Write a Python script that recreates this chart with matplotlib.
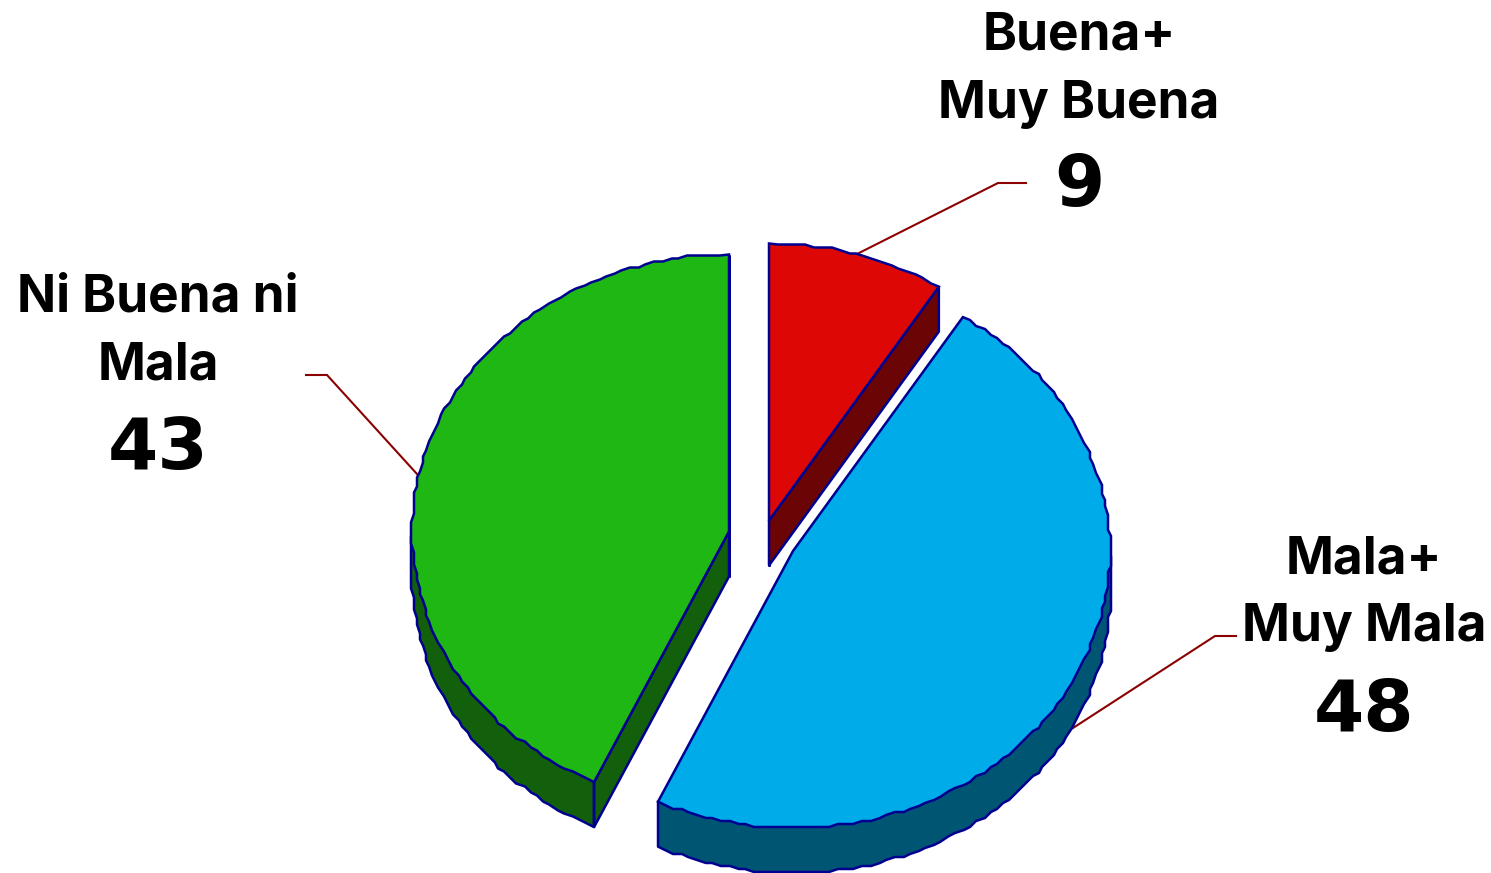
import numpy as np
import matplotlib
matplotlib.use("Agg")
import matplotlib.pyplot as plt
from matplotlib.patches import Polygon
from matplotlib.path import Path

labels = ["Buena+\nMuy Buena", "Mala+\nMuy Mala", "Ni Buena ni\nMala"]
values = [9, 48, 43]
top_colors = ["#DD0806", "#00ABEA", "#1FB714"]
side_colors = ["#6B0404", "#005573", "#125F0C"]
apexes = [(769, 520.5), (793, 551), (729, 531.5)]
label_x = [1079, 1364, 158]
line1_y = [49, 573, 311]
line2_y = [118, 641, 380]
value_y = [206, 731, 469]
leaders = [[(857, 254), (998, 183), (1026, 183)],
           [(1073, 728), (1215, 636), (1236, 636)],
           [(417, 474), (327, 375), (306, 375)]]
RX, RY, DEPTH = 317, 277, 45
GRID = 3.0
EDGE = "#000090"
LEAD = "#8B0000"
TEXT_FONT = ["Inter", "Liberation Sans"]

fig = plt.figure(figsize=(14.91, 8.73), dpi=100)
ax = fig.add_axes([0, 0, 1, 1])
ax.set_xlim(0, 1491)
ax.set_ylim(873, 0)
ax.axis("off")

fractions = np.cumsum([0] + values) / sum(values) * 2 * np.pi


def params(i):
    n = max(4, int((fractions[i + 1] - fractions[i]) / np.radians(1.5)))
    return np.linspace(fractions[i], fractions[i + 1], n)


def outline(i, dy=0.0):
    t = params(i)
    cx, cy = apexes[i]
    dx_r = RX * np.sin(t)
    dy_r = -RY * np.cos(t)
    # the reference rim is a slightly stepped outline
    sx = np.round(dx_r / GRID) * GRID
    sy = np.round(dy_r / GRID) * GRID
    sx[[0, -1]] = dx_r[[0, -1]]
    sy[[0, -1]] = dy_r[[0, -1]]
    return np.column_stack([np.r_[cx, cx + sx], np.r_[cy + dy, cy + sy + dy]])


for pts in leaders:
    ax.plot(*zip(*pts), color=LEAD, lw=1.5, zorder=1, solid_joinstyle="miter")

for i in range(len(values)):
    z = 2 + i
    top = outline(i)
    bottom = outline(i, DEPTH)
    top_path = Path(top)
    t = params(i)
    mask = np.cos(t) <= 0
    if mask.any():
        rim_top = top[1:][mask]
        rim_bot = bottom[1:][mask]
        ax.add_patch(Polygon(np.vstack([rim_top, rim_bot[::-1]]), closed=True,
                             fc=side_colors[i], ec="none", zorder=z))
        rim_line = np.vstack([rim_top[:1], rim_bot, rim_top[-1:]])
        ax.plot(rim_line[:, 0], rim_line[:, 1], color=EDGE, lw=1.8, zorder=z + 0.2)
    for b in (1, -1):
        mid = (top[0] + top[b]) / 2 + np.array([0, 2.0])
        vertical = abs(top[0][0] - top[b][0]) < 1
        if vertical or not top_path.contains_point(mid):
            quad = [top[0], top[b], bottom[b], bottom[0]]
            ax.add_patch(Polygon(quad, closed=True, fc=side_colors[i], ec=EDGE,
                                 lw=1.8, zorder=z + 0.1))
    ax.add_patch(Polygon(top, closed=True, fc=top_colors[i], ec=EDGE,
                         lw=1.8, zorder=z + 0.5))

for i, lab in enumerate(labels):
    l1, l2 = lab.split("\n")
    ax.text(label_x[i], line1_y[i], l1, ha="center", va="baseline",
            family=TEXT_FONT, weight="bold", fontsize=37, color="black")
    ax.text(label_x[i], line2_y[i], l2, ha="center", va="baseline",
            family=TEXT_FONT, weight="bold", fontsize=37, color="black")
    ax.text(label_x[i], value_y[i], str(values[i]), ha="center", va="baseline",
            family="DejaVu Sans", weight="bold", fontsize=52, color="black")

fig.savefig("out.png", dpi=100)
